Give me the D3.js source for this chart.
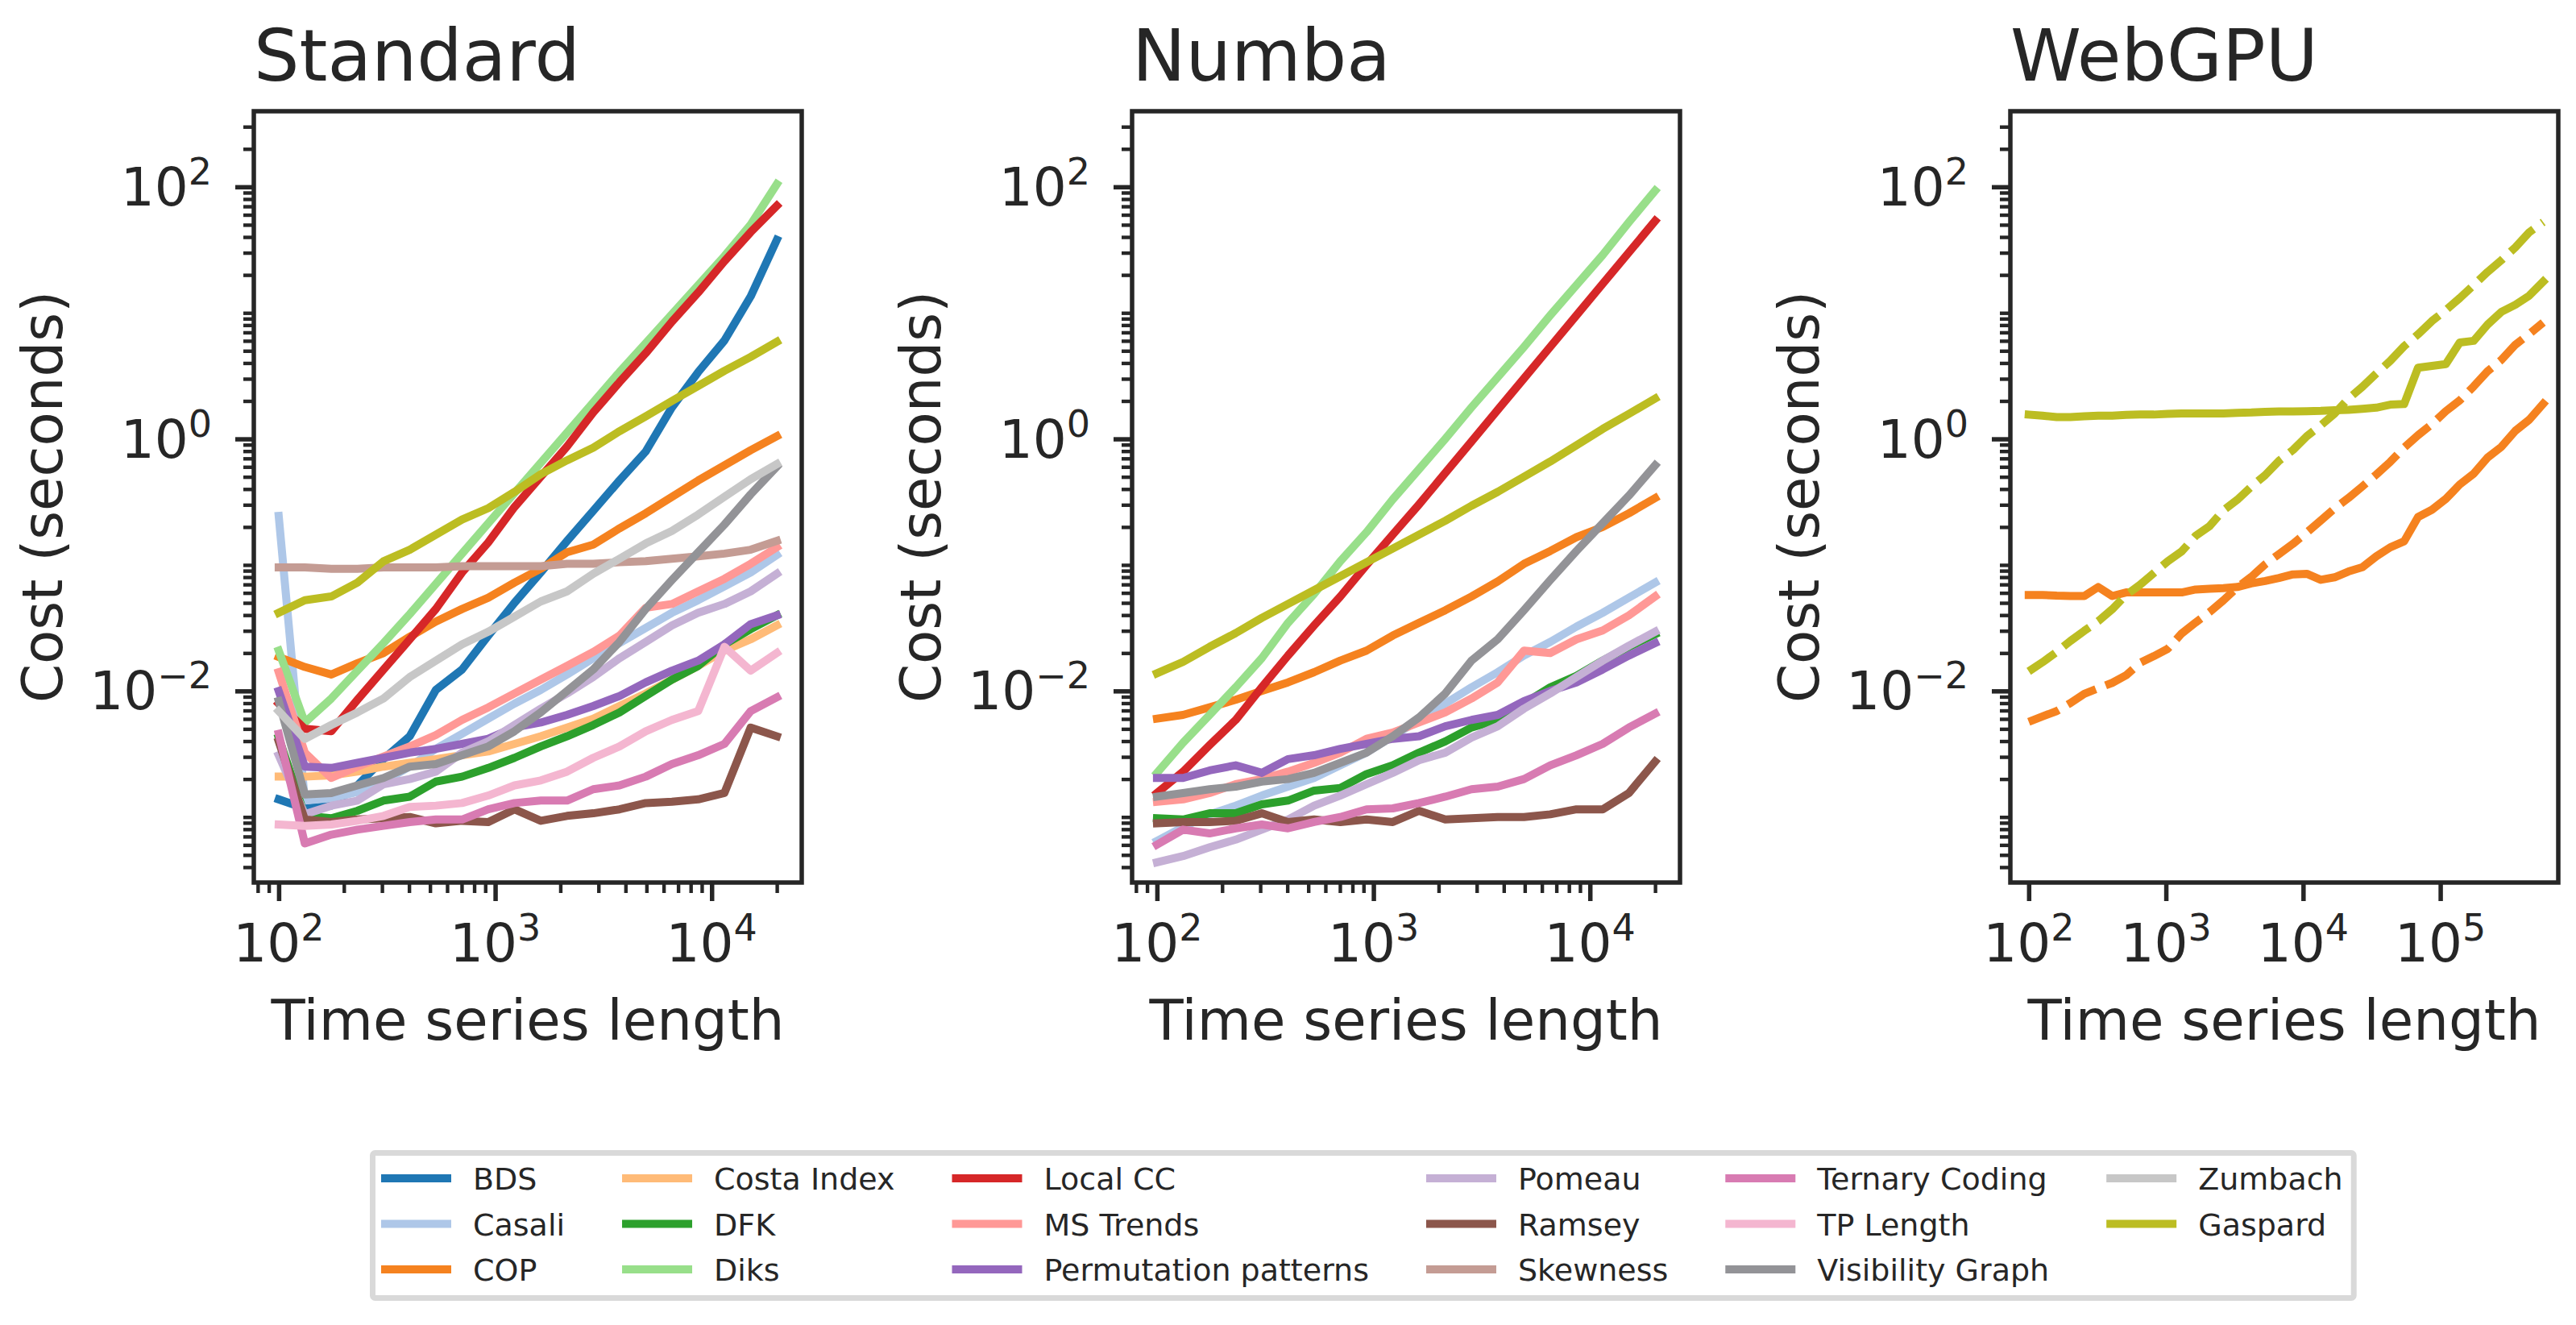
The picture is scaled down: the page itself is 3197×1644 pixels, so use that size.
<!DOCTYPE html>
<html>
<head>
<meta charset="utf-8">
<script src="https://cdn.jsdelivr.net/npm/d3@7"></script>
<style>
  body { margin: 0; background: #fff; }
  text { font-family: "DejaVu Sans", sans-serif; fill: #262626; }
</style>
</head>
<body>
<svg id="chart" width="3197" height="1644"></svg>
<script>
// time series lengths
var lengthsCpu = [100, 132, 175, 231, 305, 403, 532, 703, 929, 1228, 1624, 2147, 2838, 3751, 4958, 6554, 8664, 11452, 15139, 20000];
var lengthsGpu = [100, 126, 160, 201, 254, 321, 406, 512, 647, 817, 1032, 1303, 1645, 2078, 2624, 3314, 4184, 5284, 6673, 8427,
                  10641, 13438, 16970, 21431, 27064, 34178, 43161, 54506, 68831, 86922, 109771, 138623, 175059, 221072, 279178, 352559, 445223, 562341];

var methods = ["BDS", "Casali", "COP", "Costa Index", "DFK", "Diks", "Local CC", "MS Trends", "Permutation patterns",
               "Pomeau", "Ramsey", "Skewness", "Ternary Coding", "TP Length", "Visibility Graph", "Zumbach", "Gaspard"];
var methodColors = ["#1f77b4", "#aec7e8", "#f5821f", "#ffbb78", "#2ca02c", "#98df8a", "#d62728", "#ff9896", "#9467bd",
                    "#c5b0d5", "#8c564b", "#c49c94", "#d87bb2", "#f4b6d0", "#939397", "#c7c7c7", "#bcbd22"];

// Standard (seconds)
var stdBDS = [0.00138, 0.00117, 0.00123, 0.00178, 0.00288, 0.00437, 0.0102, 0.0148, 0.0275, 0.0501, 0.0871, 0.155, 0.269, 0.468, 0.794, 1.78, 3.39, 6.03, 13.5, 38.0];
var stdCasali = [0.245, 0.00135, 0.00141, 0.00158, 0.00191, 0.00251, 0.00347, 0.00457, 0.00603, 0.00794, 0.0102, 0.0135, 0.0182, 0.0240, 0.0316, 0.0417, 0.0525, 0.0676, 0.0871, 0.120];
var stdCOP = [0.0186, 0.0155, 0.0135, 0.0166, 0.0200, 0.0269, 0.0355, 0.0447, 0.0550, 0.0724, 0.0933, 0.126, 0.145, 0.195, 0.257, 0.347, 0.468, 0.617, 0.813, 1.05];
var stdCosta = [0.00209, 0.00209, 0.00214, 0.00229, 0.00251, 0.00269, 0.00288, 0.00309, 0.00331, 0.00380, 0.00437, 0.00513, 0.00603, 0.00759, 0.00955, 0.0123, 0.0158, 0.0209, 0.0257, 0.0331];
var stdDFK = [0.00427, 0.00102, 0.000977, 0.00112, 0.00135, 0.00145, 0.00191, 0.00209, 0.00245, 0.00295, 0.00363, 0.00437, 0.00537, 0.00676, 0.00912, 0.0123, 0.0158, 0.0234, 0.0309, 0.0398];
var stdDiks = [0.0209, 0.00562, 0.00871, 0.0145, 0.0240, 0.0407, 0.0708, 0.123, 0.214, 0.372, 0.646, 1.12, 1.95, 3.39, 5.75, 9.77, 16.6, 28.2, 50.1, 105];
var stdLocalCC = [0.00794, 0.00501, 0.00479, 0.00851, 0.0148, 0.0257, 0.0447, 0.0871, 0.151, 0.288, 0.501, 0.871, 1.62, 2.82, 4.79, 8.51, 14.5, 25.7, 43.7, 70.8];
var stdMSTrends = [0.0141, 0.00324, 0.00204, 0.00251, 0.00302, 0.00363, 0.00447, 0.00589, 0.00741, 0.00955, 0.0123, 0.0158, 0.0204, 0.0275, 0.0457, 0.0490, 0.0617, 0.0776, 0.102, 0.138];
var stdPermutation = [0.0100, 0.00251, 0.00245, 0.00269, 0.00295, 0.00324, 0.00347, 0.00380, 0.00417, 0.00513, 0.00562, 0.00646, 0.00759, 0.00912, 0.0117, 0.0145, 0.0174, 0.0234, 0.0339, 0.0398];
var stdPomeau = [0.00309, 0.00105, 0.00123, 0.00135, 0.00182, 0.00200, 0.00229, 0.00324, 0.00398, 0.00537, 0.00724, 0.00955, 0.0129, 0.0182, 0.0245, 0.0331, 0.0417, 0.0490, 0.0617, 0.0851];
var stdRamsey = [0.00398, 0.000955, 0.000912, 0.000955, 0.000977, 0.00100, 0.000891, 0.000933, 0.000912, 0.00115, 0.000933, 0.00102, 0.00107, 0.00115, 0.00129, 0.00132, 0.00138, 0.00155, 0.00513, 0.00437];
var stdSkewness = [0.0955, 0.0955, 0.0933, 0.0933, 0.0955, 0.0955, 0.0955, 0.0977, 0.0977, 0.0977, 0.0977, 0.102, 0.102, 0.105, 0.107, 0.112, 0.117, 0.123, 0.132, 0.155];
var stdTernary = [0.00457, 0.000617, 0.000724, 0.000794, 0.000851, 0.000912, 0.000955, 0.000955, 0.00115, 0.00129, 0.00135, 0.00135, 0.00166, 0.00178, 0.00209, 0.00263, 0.00309, 0.00380, 0.00692, 0.00891];
var stdTPLength = [0.000871, 0.000851, 0.000871, 0.000933, 0.00102, 0.00120, 0.00123, 0.00129, 0.00148, 0.00178, 0.00195, 0.00229, 0.00295, 0.00363, 0.00479, 0.00589, 0.00692, 0.0224, 0.0145, 0.0200];
var stdVisibility = [0.00832, 0.00151, 0.00155, 0.00178, 0.00204, 0.00251, 0.00263, 0.00309, 0.00363, 0.00479, 0.00676, 0.0100, 0.0148, 0.0245, 0.0447, 0.0759, 0.126, 0.209, 0.363, 0.603];
var stdZumbach = [0.00692, 0.00417, 0.00537, 0.00676, 0.00871, 0.0129, 0.0174, 0.0234, 0.0295, 0.0389, 0.0513, 0.0617, 0.0851, 0.112, 0.148, 0.186, 0.251, 0.347, 0.479, 0.631];
var stdGaspard = [0.0417, 0.0525, 0.0562, 0.0724, 0.107, 0.132, 0.174, 0.229, 0.282, 0.380, 0.525, 0.676, 0.851, 1.15, 1.51, 2.00, 2.63, 3.47, 4.47, 5.89];

// Numba (seconds)
var nbCasali = [0.000646, 0.000832, 0.00105, 0.00123, 0.00148, 0.00174, 0.00204, 0.00257, 0.00324, 0.00437, 0.00589, 0.00794, 0.0107, 0.0141, 0.0191, 0.0245, 0.0324, 0.0417, 0.0550, 0.0724];
var nbCOP = [0.00603, 0.00646, 0.00741, 0.00851, 0.0100, 0.0117, 0.0141, 0.0174, 0.0209, 0.0275, 0.0347, 0.0437, 0.0562, 0.0741, 0.102, 0.129, 0.166, 0.200, 0.257, 0.339];
var nbDFK = [0.000977, 0.000955, 0.00107, 0.00107, 0.00126, 0.00135, 0.00162, 0.00170, 0.00219, 0.00257, 0.00324, 0.00398, 0.00513, 0.00589, 0.00794, 0.0107, 0.0132, 0.0174, 0.0224, 0.0282];
var nbDiks = [0.00224, 0.00389, 0.00646, 0.0107, 0.0182, 0.0347, 0.0589, 0.107, 0.182, 0.331, 0.575, 1.00, 1.78, 3.09, 5.37, 9.55, 16.6, 28.8, 52.5, 93.3];
var nbLocalCC = [0.00155, 0.00229, 0.00372, 0.00589, 0.0107, 0.0191, 0.0331, 0.0562, 0.100, 0.174, 0.302, 0.537, 0.955, 1.70, 3.02, 5.37, 9.55, 17.0, 30.2, 53.7];
var nbMSTrends = [0.00132, 0.00138, 0.00155, 0.00182, 0.00200, 0.00229, 0.00269, 0.00324, 0.00417, 0.00468, 0.00562, 0.00676, 0.00871, 0.0117, 0.0209, 0.0200, 0.0257, 0.0302, 0.0398, 0.0562];
var nbPermutation = [0.00204, 0.00204, 0.00234, 0.00257, 0.00224, 0.00288, 0.00309, 0.00347, 0.00380, 0.00417, 0.00437, 0.00525, 0.00589, 0.00646, 0.00832, 0.0100, 0.0117, 0.0148, 0.0191, 0.0240];
var nbPomeau = [0.000437, 0.000490, 0.000575, 0.000661, 0.000794, 0.000955, 0.00123, 0.00148, 0.00182, 0.00224, 0.00282, 0.00324, 0.00427, 0.00525, 0.00724, 0.00955, 0.0129, 0.0174, 0.0229, 0.0295];
var nbRamsey = [0.000891, 0.000912, 0.000912, 0.000933, 0.00107, 0.000912, 0.000955, 0.000912, 0.000955, 0.000912, 0.00112, 0.000955, 0.000977, 0.00100, 0.00100, 0.00105, 0.00115, 0.00115, 0.00155, 0.00275];
var nbTernary = [0.000603, 0.000794, 0.000741, 0.000813, 0.000871, 0.000813, 0.000912, 0.00100, 0.00115, 0.00117, 0.00129, 0.00145, 0.00166, 0.00174, 0.00200, 0.00257, 0.00309, 0.00380, 0.00513, 0.00661];
var nbVisibility = [0.00145, 0.00155, 0.00166, 0.00174, 0.00191, 0.00200, 0.00224, 0.00269, 0.00324, 0.00437, 0.00617, 0.00955, 0.0174, 0.0257, 0.0437, 0.0759, 0.129, 0.214, 0.355, 0.617];
var nbGaspard = [0.0138, 0.0170, 0.0224, 0.0288, 0.0380, 0.0490, 0.0631, 0.0813, 0.105, 0.135, 0.174, 0.224, 0.295, 0.380, 0.501, 0.661, 0.891, 1.20, 1.58, 2.09];

// WebGPU (seconds); dashed = comparison runs
var gpuCOP = [0.0578, 0.0578, 0.0570, 0.0567, 0.0567, 0.0668, 0.0567, 0.0605, 0.0605, 0.0605, 0.0605, 0.0605, 0.0638, 0.0647, 0.0655, 0.0668, 0.0713, 0.0746, 0.0787, 0.0841,
              0.0851, 0.0762, 0.0798, 0.0887, 0.0959, 0.117, 0.138, 0.154, 0.240, 0.274, 0.334, 0.435, 0.529, 0.711, 0.866, 1.16, 1.42, 1.90];
var gpuGaspard = [1.56, 1.53, 1.49, 1.49, 1.51, 1.53, 1.53, 1.55, 1.56, 1.56, 1.58, 1.59, 1.59, 1.59, 1.59, 1.61, 1.62, 1.64, 1.65, 1.65,
                  1.66, 1.67, 1.69, 1.70, 1.73, 1.77, 1.87, 1.89, 3.67, 3.79, 3.92, 5.81, 6.00, 8.07, 10.2, 11.6, 13.7, 17.7];
var gpuCOPDashed = [0.00569, 0.00628, 0.00693, 0.00801, 0.00950, 0.0105, 0.0116, 0.0133, 0.0167, 0.0189, 0.0216, 0.0286, 0.0349, 0.0422, 0.0524, 0.0664, 0.0803, 0.101, 0.122, 0.147,
                    0.181, 0.225, 0.281, 0.340, 0.420, 0.522, 0.657, 0.854, 1.07, 1.31, 1.66, 2.02, 2.61, 3.44, 4.24, 5.59, 6.80, 8.40];
var gpuGaspardDashed = [0.0143, 0.0169, 0.0204, 0.0249, 0.0300, 0.0358, 0.0445, 0.0578, 0.0695, 0.0863, 0.107, 0.128, 0.170, 0.203, 0.271, 0.329, 0.417, 0.515, 0.670, 0.816,
                        1.05, 1.28, 1.59, 2.09, 2.59, 3.30, 4.16, 5.44, 6.76, 8.62, 10.5, 13.1, 16.6, 21.1, 26.2, 33.1, 43.6, 52.5];

var color = d3.scaleOrdinal().domain(methods).range(methodColors);

var panels = [
  { title: "Standard", left: 315, xs: lengthsCpu, xDomain: [Math.pow(10, 1.885), Math.pow(10, 4.416)], xMajor: [1e2, 1e3, 1e4], xMinorTicks: true,
    series: [["BDS", stdBDS], ["Casali", stdCasali], ["COP", stdCOP], ["Costa Index", stdCosta], ["DFK", stdDFK], ["Diks", stdDiks],
             ["Local CC", stdLocalCC], ["MS Trends", stdMSTrends], ["Permutation patterns", stdPermutation], ["Pomeau", stdPomeau],
             ["Ramsey", stdRamsey], ["Skewness", stdSkewness], ["Ternary Coding", stdTernary], ["TP Length", stdTPLength],
             ["Visibility Graph", stdVisibility], ["Zumbach", stdZumbach], ["Gaspard", stdGaspard]] },
  { title: "Numba", left: 1405, xs: lengthsCpu, xDomain: [Math.pow(10, 1.885), Math.pow(10, 4.416)], xMajor: [1e2, 1e3, 1e4], xMinorTicks: true,
    series: [["Casali", nbCasali], ["COP", nbCOP], ["DFK", nbDFK], ["Diks", nbDiks], ["Local CC", nbLocalCC], ["MS Trends", nbMSTrends],
             ["Permutation patterns", nbPermutation], ["Pomeau", nbPomeau], ["Ramsey", nbRamsey], ["Ternary Coding", nbTernary],
             ["Visibility Graph", nbVisibility], ["Gaspard", nbGaspard]] },
  { title: "WebGPU", left: 2495, xs: lengthsGpu, xDomain: [Math.pow(10, 1.866), Math.pow(10, 5.86)], xMajor: [1e2, 1e3, 1e4, 1e5], xMinorTicks: false,
    series: [["COP", gpuCOP], ["Gaspard", gpuGaspard], ["COP", gpuCOPDashed, true], ["Gaspard", gpuGaspardDashed, true]] }
];

var plotTop = 138, plotW = 680, plotH = 957;
var yDomain = [Math.pow(10, -3.52), Math.pow(10, 2.6)];
var yMajor = [1e-2, 1, 1e2];
var ink = "#262626";

var svg = d3.select("#chart");
svg.append("rect").attr("width", 3197).attr("height", 1644).attr("fill", "#fff");

function minorTicks(domain, majors) {
  var out = [];
  for (var e = -5; e <= 6; e++) {
    for (var k = 1; k <= 9; k++) {
      var v = k * Math.pow(10, e);
      if (v >= domain[0] && v <= domain[1] && majors.every(function (m) { return Math.abs(m - v) / m > 1e-9; })) out.push(v);
    }
  }
  return out;
}

function powerLabel(sel, e) {
  sel.text("10");
  sel.append("tspan").attr("dy", -26).attr("font-size", 46).text(e < 0 ? "\u2212" + (-e) : e);
}

panels.forEach(function (p, pi) {
  var x = d3.scaleLog().domain(p.xDomain).range([0, plotW]);
  var y = d3.scaleLog().domain(yDomain).range([plotH, 0]);
  var g = svg.append("g").attr("transform", "translate(" + p.left + "," + plotTop + ")");

  g.append("clipPath").attr("id", "clip" + pi)
    .append("rect").attr("width", plotW).attr("height", plotH);

  var line = d3.line()
    .defined(function (d) { return d[1] != null; })
    .x(function (d) { return x(d[0]); })
    .y(function (d) { return y(d[1]); });

  var lines = g.append("g").attr("clip-path", "url(#clip" + pi + ")");
  p.series.forEach(function (s) {
    var pts = p.xs.map(function (v, i) { return [v, s[1][i]]; });
    lines.append("path")
      .attr("d", line(pts))
      .attr("fill", "none")
      .attr("stroke", color(s[0]))
      .attr("stroke-width", 10)
      .attr("stroke-linejoin", "round")
      .attr("stroke-linecap", s[2] ? "butt" : "square")
      .attr("stroke-dasharray", s[2] ? "40,13" : null);
  });

  // ticks (bottom and left only)
  var xAxis = g.append("g").attr("transform", "translate(0," + plotH + ")");
  if (p.xMinorTicks) {
    xAxis.append("g").call(d3.axisBottom(x).tickValues(minorTicks(p.xDomain, p.xMajor)).tickSize(13).tickFormat(""))
      .call(function (a) { a.select(".domain").remove(); a.selectAll("line").attr("stroke", ink).attr("stroke-width", 4.4); });
  }
  xAxis.append("g").call(d3.axisBottom(x).tickValues(p.xMajor).tickSize(23).tickFormat(""))
    .call(function (a) { a.select(".domain").remove(); a.selectAll("line").attr("stroke", ink).attr("stroke-width", 5.5); });
  p.xMajor.forEach(function (v) {
    g.append("text").attr("x", x(v)).attr("y", plotH + 98).attr("text-anchor", "middle").attr("font-size", 66)
      .call(powerLabel, Math.round(Math.log10(v)));
  });

  var yAxis = g.append("g");
  yAxis.append("g").call(d3.axisLeft(y).tickValues(minorTicks(yDomain, yMajor)).tickSize(13).tickFormat(""))
    .call(function (a) { a.select(".domain").remove(); a.selectAll("line").attr("stroke", ink).attr("stroke-width", 4.4); });
  yAxis.append("g").call(d3.axisLeft(y).tickValues(yMajor).tickSize(23).tickFormat(""))
    .call(function (a) { a.select(".domain").remove(); a.selectAll("line").attr("stroke", ink).attr("stroke-width", 5.5); });
  yMajor.forEach(function (v) {
    g.append("text").attr("x", -52).attr("y", y(v) + 23).attr("text-anchor", "end").attr("font-size", 66)
      .call(powerLabel, Math.round(Math.log10(v)));
  });

  // frame
  g.append("rect").attr("width", plotW).attr("height", plotH)
    .attr("fill", "none").attr("stroke", ink).attr("stroke-width", 5.5);

  g.append("text").attr("x", 0).attr("y", 100 - plotTop).attr("font-size", 89).text(p.title);
  g.append("text").attr("x", plotW / 2).attr("y", 1290 - plotTop).attr("text-anchor", "middle").attr("font-size", 69)
    .text("Time series length");
  g.append("text").attr("transform", "translate(-238," + (plotH / 2) + ") rotate(-90)")
    .attr("text-anchor", "middle").attr("font-size", 69).text("Cost (seconds)");
});

// legend: 3 rows, filled column by column
var legendLeft = 459, legendTop = 1427, rowGap = 56.5, handleLen = 87, textPad = 27, colGap = 71;
var legend = svg.append("g");
var frame = legend.append("rect");
var colX = legendLeft + 14, lastEnd = 0;
for (var c = 0; c * 3 < methods.length; c++) {
  var names = methods.slice(c * 3, c * 3 + 3);
  var maxW = 0;
  names.forEach(function (name, r) {
    var cy = legendTop + 35 + r * rowGap;
    legend.append("line").attr("x1", colX).attr("x2", colX + handleLen).attr("y1", cy).attr("y2", cy)
      .attr("stroke", color(name)).attr("stroke-width", 10);
    var t = legend.append("text").attr("x", colX + handleLen + textPad).attr("y", cy + 14)
      .attr("font-size", 38).text(name);
    maxW = Math.max(maxW, t.node().getComputedTextLength());
  });
  lastEnd = colX + handleLen + textPad + maxW;
  colX = lastEnd + colGap;
}
frame.attr("x", legendLeft + 3.5).attr("y", legendTop + 3.5)
  .attr("width", lastEnd + 17 - legendLeft - 7).attr("height", 1614 - legendTop - 7)
  .attr("rx", 3).attr("fill", "#fff").attr("stroke", "#d9d9d9").attr("stroke-width", 7);
</script>
</body>
</html>
